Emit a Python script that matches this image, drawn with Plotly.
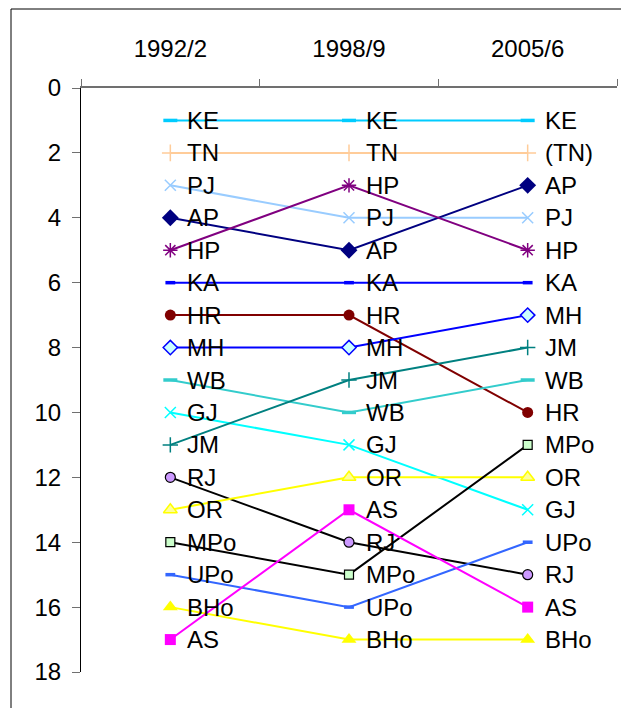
import plotly.graph_objects as go

# Survey periods (category axis along the top)
periods = ["1992/2", "1998/9", "2005/6"]

# States, listed in their 1992/2 order
states = ["KE", "TN", "PJ", "AP", "HP", "KA", "HR", "MH", "WB",
          "GJ", "JM", "RJ", "OR", "MPo", "UPo", "BHo", "AS"]

# Rank of each state in each period
rank_1992 = [1, 2, 3, 4, 5, 6, 7, 8, 9, 10, 11, 12, 13, 14, 15, 16, 17]
rank_1998 = [1, 2, 4, 5, 3, 6, 7, 8, 10, 11, 9, 14, 12, 15, 16, 17, 13]
rank_2005 = [1, 2, 4, 3, 5, 6, 10, 7, 9, 13, 8, 15, 12, 11, 14, 17, 16]

# Point labels per period (TN is bracketed in the last period)
labels_1992 = list(states)
labels_1998 = list(states)
labels_2005 = ["(TN)" if s == "TN" else s for s in states]

# y-axis tick values
rank_ticks = [0, 2, 4, 6, 8, 10, 12, 14, 16, 18]

# Line colour, marker symbol, marker size, marker fill, marker outline width
styles = {
    "KE":  ("#00CCFF", "line-ew", 10, "#00CCFF", 3.5),
    "TN":  ("#FFCC99", "cross-thin", 12, "#FFCC99", 1.5),
    "PJ":  ("#99CCFF", "x-thin", 11, "#99CCFF", 1.5),
    "AP":  ("#000080", "diamond", 13, "#000080", 0),
    "HP":  ("#800080", "asterisk", 12, "#800080", 1.5),
    "KA":  ("#0000FF", "line-ew", 7, "#0000FF", 3.5),
    "HR":  ("#800000", "circle", 11, "#800000", 0),
    "MH":  ("#0000FF", "diamond", 11, "#CCFFFF", 1.5),
    "WB":  ("#33CCCC", "line-ew", 10, "#33CCCC", 3.5),
    "GJ":  ("#00FFFF", "x-thin", 11, "#00FFFF", 1.5),
    "JM":  ("#008080", "cross-thin", 11, "#008080", 1.5),
    "RJ":  ("#000000", "circle", 10, "#CC99FF", 1.2),
    "OR":  ("#FFFF00", "triangle-up", 12, "#FFFF99", 1.5),
    "MPo": ("#000000", "square", 9, "#CCFFCC", 1.2),
    "UPo": ("#3366FF", "line-ew", 7, "#3366FF", 3.5),
    "BHo": ("#FFFF00", "triangle-up", 13, "#FFFF00", 0),
    "AS":  ("#FF00FF", "square", 11, "#FF00FF", 0),
}

FONT = "Liberation Sans, Arial, sans-serif"
W, H = 621, 708
ML, MR, MT, MB = 81, 4, 88, 36

fig = go.Figure()
annotations = []

for i, st in enumerate(states):
    color, symbol, size, fill, lw = styles[st]
    ranks = [rank_1992[i], rank_1998[i], rank_2005[i]]
    labels = [labels_1992[i], labels_1998[i], labels_2005[i]]
    fig.add_trace(go.Scatter(
        x=periods, y=ranks, mode="lines+markers", name=st,
        line=dict(color=color, width=2),
        marker=dict(symbol=symbol, size=size, color=fill,
                    line=dict(color=color, width=lw)),
        cliponaxis=False, showlegend=False, hoverinfo="skip",
    ))
    for p, r, t in zip(periods, ranks, labels):
        annotations.append(dict(
            x=p, y=r, xref="x", yref="y", text=t, showarrow=False,
            xanchor="left", yanchor="middle", xshift=15, yshift=0,
            font=dict(family=FONT, size=24, color="#000000"),
        ))

# Outer chart-area border (runs past the right and bottom page edges)
pw, ph = W - ML - MR, H - MT - MB
shapes = [dict(
    type="rect", xref="paper", yref="paper",
    x0=(11 - ML) / pw, x1=(640 - ML) / pw,
    y0=-(730 - (H - MB)) / ph, y1=1 + (MT - 9) / ph,
    line=dict(color="#000000", width=1), fillcolor="rgba(0,0,0,0)",
    layer="below",
)]

fig.update_layout(
    width=W, height=H,
    margin=dict(l=ML, r=MR, t=MT, b=MB, pad=0),
    paper_bgcolor="#FFFFFF", plot_bgcolor="#FFFFFF",
    font=dict(family=FONT, size=24, color="#000000"),
    annotations=annotations, shapes=shapes,
    xaxis=dict(
        type="category", categoryorder="array", categoryarray=periods,
        range=[-0.5, 2.5], side="top", showgrid=False, zeroline=False,
        showline=True, linecolor="#707070", linewidth=1.5,
        ticks="outside", tickson="boundaries", ticklen=7,
        tickcolor="#707070", tickwidth=1,
        ticklabelstandoff=20, tickfont=dict(family=FONT, size=24),
    ),
    yaxis=dict(
        range=[18, 0], tickvals=rank_ticks, showgrid=False, zeroline=False,
        showline=True, linecolor="#000000", linewidth=1,
        ticks="outside", ticklen=8, tickcolor="#707070", tickwidth=1,
        ticklabelstandoff=6, tickfont=dict(family=FONT, size=24),
    ),
)

fig.write_html("out.html")
